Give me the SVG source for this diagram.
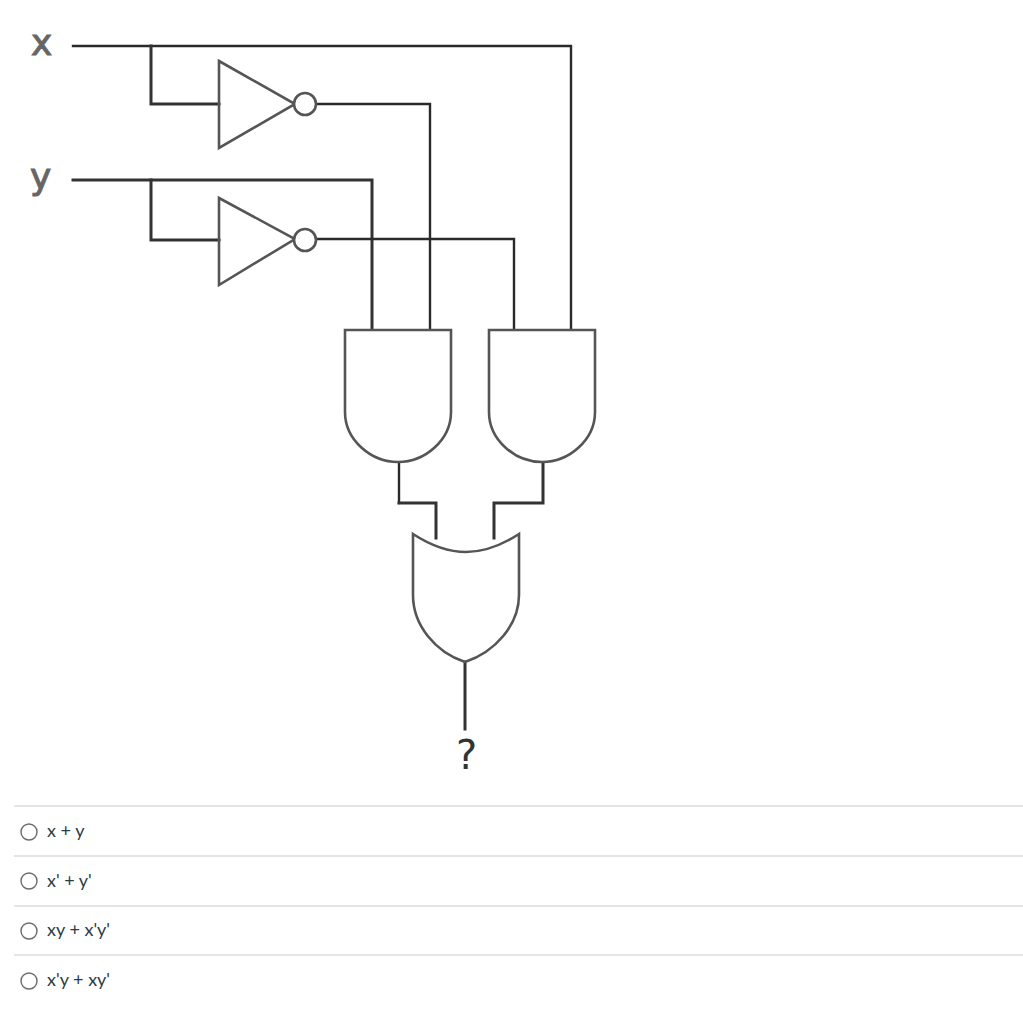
<svg xmlns="http://www.w3.org/2000/svg" width="1023" height="1024" viewBox="0 0 1023 1024">
<style>
.w{fill:none;stroke:#2a2a2a;stroke-width:2.4;stroke-linejoin:miter;stroke-linecap:square}
.t{fill:none;stroke:#333;stroke-width:3;stroke-linecap:square}
.g{fill:none;stroke:#555;stroke-width:2.6}
.b{fill:#fff;stroke:#555;stroke-width:2.6}
.sep{stroke:#dcdcdc;stroke-width:1.3}
.r{fill:#fff;stroke:#6b6b6b;stroke-width:1.4}
.o{font-family:Lato,"Liberation Sans",sans-serif;font-size:18px;fill:#2d3b45}
.l{font-family:"DejaVu Sans",sans-serif;font-size:36px;fill:#666;stroke:#666;stroke-width:1}
</style>
<rect width="1023" height="1024" fill="#fff"/>
<g id="connectors">
<path class="w" d="M73 46H571V329"/>
<path class="t" d="M151 46V104H219"/>
<path class="w" d="M317 104H430V329"/>
<path class="t" d="M73 180H372V329"/>
<path class="t" d="M151 180V240H219"/>
<path class="w" d="M317 239H514V329"/>
<path class="w" d="M399 463V503"/>
<path class="t" d="M399 503H436V538"/>
<path class="t" d="M543 463V503H494V538"/>
<path class="t" d="M465 662V729"/>
</g>
<g id="not-x"><path class="g" d="M219 61L295 104L219 148Z"/><circle class="b" cx="305" cy="104" r="11"/></g>
<g id="not-y"><path class="g" d="M219 198L295 239L219 285Z"/><circle class="b" cx="305" cy="240" r="11"/></g>
<g id="and-1"><path class="g" d="M345 330H451V412C451 440 425 462 398 462C371 462 345 440 345 412Z"/></g>
<g id="and-2"><path class="g" d="M489 330H595V412C595 440 569 462 542 462C515 462 489 440 489 412Z"/></g>
<g id="or"><path class="g" d="M413 534C430 545 447 552 466 552C485 552 502 545 519 534V595C519 625 495 652 465 662C435 652 413 625 413 595Z"/></g>
<g id="label-x"><text class="l" x="31" y="55">x</text></g>
<g id="label-y"><text class="l" x="30" y="189">y</text></g>
<g id="label-q"><text x="456" y="769" font-family="DejaVu Sans,sans-serif" font-size="40" fill="#333">?</text></g>
<g id="options">
<line class="sep" x1="14" y1="806" x2="1023" y2="806"/>
<line class="sep" x1="14" y1="856" x2="1023" y2="856"/>
<line class="sep" x1="14" y1="906" x2="1023" y2="906"/>
<line class="sep" x1="14" y1="955" x2="1023" y2="955"/>
<circle class="r" cx="29" cy="832" r="8"/><text class="o" x="47" y="837">x + y</text>
<circle class="r" cx="29" cy="881" r="8"/><text class="o" x="47" y="887">x' + y'</text>
<circle class="r" cx="29" cy="931" r="8"/><text class="o" x="47" y="936">xy + x'y'</text>
<circle class="r" cx="29" cy="981" r="8"/><text class="o" x="47" y="986">x'y + xy'</text>
</g>
</svg>
